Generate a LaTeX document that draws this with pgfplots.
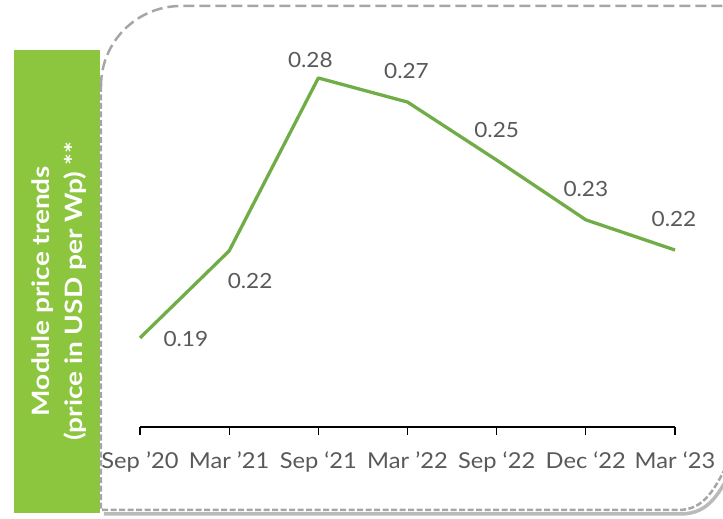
\documentclass[border=0pt]{standalone}
\usepackage{fontspec}
\setmainfont{Lato}
\newfontfamily\boxfont[FakeStretch=1.17]{Lato}
\newfontfamily\lblfont[FakeStretch=1.08]{Lato}
\usepackage{pgfplots}
\pgfplotsset{compat=1.18}
\definecolor{boxgreen}{HTML}{8CC63F}
\definecolor{linegreen}{HTML}{70AD47}
\definecolor{txtgray}{HTML}{595959}
\definecolor{framegray}{HTML}{A6A6A6}
\begin{document}
\begin{tikzpicture}
\begin{scope}[x=1bp,y=1bp,shift={(-140bp,-92bp)}]
\useasboundingbox (0,0) rectangle (723,519);
\clip (0,0) rectangle (723,519);
\fill[boxgreen] (14,6) rectangle (100,469);
\draw[black!45, line width=3.5bp, opacity=0.6] (104,5) -- (680,5) .. controls (710,5) and (720,26) .. (737,60);
\draw[framegray, line width=2.5bp, dash pattern=on 11bp off 5bp] (101,433) arc[start angle=180,end angle=90,radius=80] -- (740,513);
\draw[framegray, line width=2.5bp, dash pattern=on 6bp off 2.5bp] (101,433) -- (101,9) -- (678,9) .. controls (705,9) and (715,30) .. (732,64);
\node[rotate=90, text=white, font=\boxfont\bfseries\fontsize{24}{33}\selectfont, align=center] at (59,228) {Module price trends\\(price in USD per Wp) **};
\end{scope}
\begin{axis}[anchor=south west, scale only axis, width=535bp, height=367bp,
  xmin=0, xmax=6, ymin=0.159, ymax=0.2855,
  axis x line=bottom, axis y line=none,
  x axis line style={-, black, line width=1.3bp},
  xtick={0,...,6},
  xticklabels={Sep ’20, Mar ’21, Sep ‘21, Mar ’22, Sep ‘22, Dec ‘22, Mar ‘23},
  tick align=outside, major tick length=8bp,
  xtick style={black, line width=1.3bp},
  xticklabel style={font=\lblfont\fontsize{22}{26}\selectfont, text=txtgray, inner sep=0pt, anchor=north, yshift=-17bp},
  clip=false]
\addplot[linegreen, line width=3.3bp, mark=none, line join=round,
  nodes near coords, point meta=explicit symbolic,
  visualization depends on={value \thisrow{dx} \as \dx},
  visualization depends on={value \thisrow{dy} \as \dy},
  nodes near coords style={anchor=center, xshift=\dx, yshift=\dy, font=\lblfont\fontsize{21}{25}\selectfont, text=txtgray, inner sep=0pt}]
  table[x=x, y=y, meta=lab] {
x y lab dx dy
0 0.1897 0.19 46 -1
1 0.2197 0.22 21 -30
2 0.2793 0.28 -8 18
3 0.2710 0.27 -1 31
4 0.2510 0.25 0 30
5 0.2304 0.23 0 31
6 0.2200 0.22 -1 31
};
\end{axis}
\end{tikzpicture}
\end{document}
